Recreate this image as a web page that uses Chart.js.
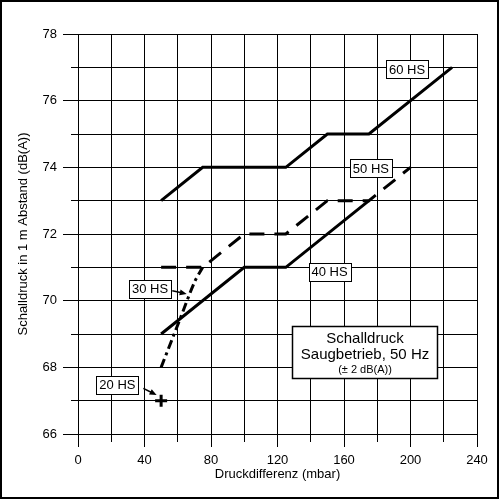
<!DOCTYPE html>
<html>
<head>
<meta charset="utf-8">
<script src="https://cdn.jsdelivr.net/npm/chart.js@4.4.1/dist/chart.umd.min.js"></script>
<style>
  html, body { margin: 0; padding: 0; background: #fff; }
  #wrap { width: 499px; height: 499px; }
</style>
</head>
<body>
<div id="wrap"><canvas id="chart" width="499" height="499"></canvas></div>
<script>
// Pressure difference (mbar) / sound level (dB(A)) per machine size
const hs60X = [50, 75, 125, 150, 175, 225];
const hs60Y = [73, 74, 74, 75, 75, 77];
const hs50X = [50, 75, 100, 125, 150, 175, 200];
const hs50Y = [71, 71, 72, 72, 73, 73, 74];
const hs40X = [50, 100, 125, 175];
const hs40Y = [69, 71, 71, 73];
const hs30X = [50, 61, 70, 75];
const hs30Y = [68, 69.4, 70.55, 71];
const hs20X = [50];
const hs20Y = [67];

const xTicks = [0, 40, 80, 120, 160, 200, 240];
const yTicks = [66, 68, 70, 72, 74, 76, 78];

// label boxes, anchored in data units
const notes = [
  { text: '60 HS', x: 197.9, y: 76.935 },
  { text: '50 HS', x: 176.2, y: 73.98 },
  { text: '40 HS', x: 151.3, y: 70.87 },
  { text: '30 HS', x: 43.3, y: 70.36, arrow: [56.7, 70.30, 65.4, 70.2] },
  { text: '20 HS', x: 23.7, y: 67.485, arrow: [39.3, 67.37, 47.3, 67.17] },
];

const FONT = '"Liberation Sans", Arial, sans-serif';

function pts(xs, ys) {
  return xs.map((x, i) => ({ x, y: ys[i] }));
}

function lineSet(label, xs, ys, dash, extra) {
  return Object.assign({
    label,
    data: pts(xs, ys),
    showLine: true,
    borderColor: '#000',
    backgroundColor: '#000',
    borderWidth: 3,
    borderDash: dash,
    pointRadius: 0,
    tension: 0,
  }, extra || {});
}

const decor = {
  id: 'decor',
  afterDraw(chart) {
    const { ctx, scales } = chart;
    const sx = scales.x, sy = scales.y;
    ctx.save();

    // notes with boxes
    ctx.font = '13px ' + FONT;
    ctx.textAlign = 'center';
    ctx.textBaseline = 'middle';
    notes.forEach(n => {
      const cx = sx.getPixelForValue(n.x);
      const cy = sy.getPixelForValue(n.y);
      const w = Math.round(ctx.measureText(n.text).width + 6);
      const h = 18;
      const bx = Math.round(cx - w / 2) + 0.5;
      const by = Math.round(cy - h / 2) + 0.5;
      ctx.fillStyle = '#fff';
      ctx.fillRect(bx, by, w, h);
      ctx.strokeStyle = '#000';
      ctx.lineWidth = 1;
      ctx.strokeRect(bx, by, w, h);
      ctx.fillStyle = '#000';
      ctx.fillText(n.text, cx, cy + 1);
      if (n.arrow) {
        const x1 = sx.getPixelForValue(n.arrow[0]);
        const y1 = sy.getPixelForValue(n.arrow[1]);
        const x2 = sx.getPixelForValue(n.arrow[2]);
        const y2 = sy.getPixelForValue(n.arrow[3]);
        const a = Math.atan2(y2 - y1, x2 - x1);
        ctx.lineWidth = 1.5;
        ctx.beginPath();
        ctx.moveTo(x1, y1);
        ctx.lineTo(x2 - 4 * Math.cos(a), y2 - 4 * Math.sin(a));
        ctx.stroke();
        ctx.beginPath();
        ctx.moveTo(x2, y2);
        ctx.lineTo(x2 - 7 * Math.cos(a) + 3 * Math.sin(a), y2 - 7 * Math.sin(a) - 3 * Math.cos(a));
        ctx.lineTo(x2 - 7 * Math.cos(a) - 3 * Math.sin(a), y2 - 7 * Math.sin(a) + 3 * Math.cos(a));
        ctx.closePath();
        ctx.fill();
      }
    });

    // legend box
    const lx1 = Math.round(sx.getPixelForValue(128.7)) + 0.5;
    const lx2 = Math.round(sx.getPixelForValue(216)) + 0.5;
    const ly1 = Math.round(sy.getPixelForValue(69.24)) + 0.5;
    const ly2 = Math.round(sy.getPixelForValue(67.68)) + 0.5;
    ctx.fillStyle = '#fff';
    ctx.fillRect(lx1, ly1, lx2 - lx1, ly2 - ly1);
    ctx.strokeStyle = '#000';
    ctx.lineWidth = 1.5;
    ctx.strokeRect(lx1, ly1, lx2 - lx1, ly2 - ly1);
    const mid = (lx1 + lx2) / 2;
    ctx.fillStyle = '#000';
    ctx.font = '15px ' + FONT;
    ctx.fillText('Schalldruck', mid, ly1 + 12);
    ctx.fillText('Saugbetrieb, 50 Hz', mid, ly1 + 28);
    ctx.font = '11px ' + FONT;
    ctx.fillText('(± 2 dB(A))', mid, ly1 + 43);

    // outer frame
    ctx.lineWidth = 2;
    ctx.strokeRect(1, 1, 497, 497);
    ctx.restore();
  }
};

new Chart(document.getElementById('chart'), {
  type: 'scatter',
  data: {
    datasets: [
      lineSet('60 HS', hs60X, hs60Y, []),
      lineSet('50 HS', hs50X, hs50Y, [15, 10]),
      lineSet('40 HS', hs40X, hs40Y, []),
      lineSet('30 HS', hs30X, hs30Y, [9, 4, 3, 4], { tension: 0.3 }),
      {
        label: '20 HS',
        data: pts(hs20X, hs20Y),
        showLine: false,
        pointStyle: 'cross',
        pointRadius: 6,
        borderWidth: 3,
        borderColor: '#000',
        backgroundColor: '#000',
      },
    ],
  },
  options: {
    responsive: false,
    animation: false,
    devicePixelRatio: 1,
    layout: { padding: { top: 34, right: 22, left: 0, bottom: 0 } },
    plugins: {
      legend: { display: false },
      tooltip: { enabled: false },
    },
    scales: {
      x: {
        type: 'linear',
        min: 0,
        max: 240,
        afterFit: (s) => { s.height = 65; },
        afterBuildTicks: (s) => {
          const t = [];
          for (let v = 0; v <= 240; v += 20) t.push({ value: v });
          s.ticks = t;
        },
        grid: {
          color: '#000',
          lineWidth: 1,
          tickLength: 13,
          tickColor: '#000',
          tickBorderDash: (c) => (c.tick && !xTicks.includes(c.tick.value)) ? [7, 100] : [],
        },
        border: { color: '#000', width: 1 },
        ticks: {
          padding: 6,
          color: '#000',
          font: { family: FONT, size: 13 },
          maxRotation: 0,
          autoSkip: false,
          callback: (v) => xTicks.includes(v) ? String(v) : '',
        },
        title: {
          display: true,
          text: 'Druckdifferenz (mbar)',
          color: '#000',
          font: { family: FONT, size: 13 },
          padding: { top: 0, bottom: 17 },
        },
      },
      y: {
        type: 'linear',
        min: 66,
        max: 78,
        afterFit: (s) => { s.width = 78; },
        afterBuildTicks: (s) => {
          const t = [];
          for (let v = 66; v <= 78; v += 1) t.push({ value: v });
          s.ticks = t;
        },
        grid: {
          color: '#000',
          lineWidth: 1,
          tickLength: 15,
          tickColor: '#000',
          tickBorderDash: (c) => (c.tick && !yTicks.includes(c.tick.value)) ? [0, 8, 100, 0] : [],
        },
        border: { color: '#000', width: 1 },
        ticks: {
          padding: 6,
          color: '#000',
          font: { family: FONT, size: 13 },
          autoSkip: false,
          callback: (v) => yTicks.includes(v) ? String(v) : '',
        },
        title: {
          display: true,
          text: 'Schalldruck in 1 m Abstand (dB(A))',
          color: '#000',
          font: { family: FONT, size: 13 },
          padding: { top: 16, bottom: 0 },
        },
      },
    },
  },
  plugins: [decor],
});
</script>
</body>
</html>
